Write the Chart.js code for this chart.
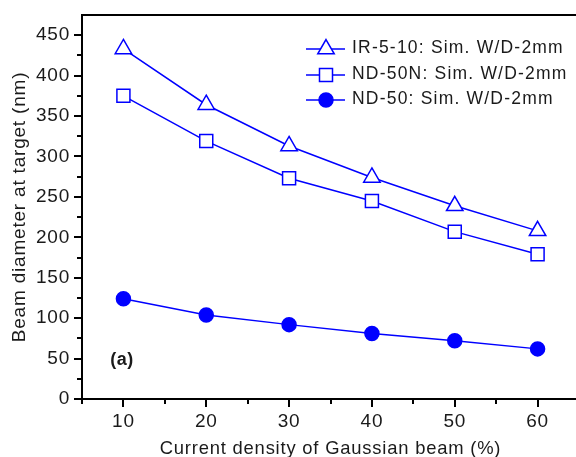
<!DOCTYPE html>
<html><head><meta charset="utf-8">
<script src="https://cdn.jsdelivr.net/npm/chart.js@4/dist/chart.umd.min.js"></script>
<style>html,body{margin:0;padding:0;background:#fff;overflow:hidden}canvas{display:block}</style>
</head><body>
<canvas id="c" width="579" height="457"></canvas>
<script>
const xValues = [10, 20, 30, 40, 50, 60];
const ir510 = [433, 364, 313, 274, 239, 208];
const nd50n = [375, 319, 273, 245, 207, 179];
const nd50  = [124, 104, 92, 81, 72, 62];
const xTicks = [10, 20, 30, 40, 50, 60];
const yTicks = [0, 50, 100, 150, 200, 250, 300, 350, 400, 450];
const seriesNames = ['IR-5-10: Sim. W/D-2mm', 'ND-50N: Sim. W/D-2mm', 'ND-50: Sim. W/D-2mm'];
const panelLabel = '(a)';
const xTitle = 'Current density of Gaussian beam (%)';
const yTitle = 'Beam diameter at target (nm)';

const BLUE = '#0000ff';
const TXT = '#1a1a1a';
const FONT = "'Liberation Sans', Arial, Helvetica, sans-serif";
const toPts = ys => xValues.map((x, i) => ({x: x, y: ys[i]}));

const styles = [
  {pointStyle: 'triangle', radius: 9.5, bg: '#ffffff'},
  {pointStyle: 'rect', radius: 9.2, bg: '#ffffff'},
  {pointStyle: 'circle', radius: 7, bg: BLUE}
];
const seriesData = [ir510, nd50n, nd50];

const datasets = seriesData.map((d, i) => ({
  label: seriesNames[i], data: toPts(d),
  borderColor: BLUE, borderWidth: 1.5, tension: 0, fill: false,
  pointStyle: styles[i].pointStyle, pointRadius: styles[i].radius, pointHoverRadius: styles[i].radius,
  pointBackgroundColor: styles[i].bg, pointBorderColor: BLUE, pointBorderWidth: 1.5
}));

const decor = {
  id: 'decor',
  beforeUpdate(chart) { chart.ctx.letterSpacing = '0.8px'; },
  beforeDraw(chart) { chart.ctx.letterSpacing = '0.8px'; },
  afterDraw(chart) {
    const ctx = chart.ctx, a = chart.chartArea, x = chart.scales.x, y = chart.scales.y;
    ctx.save();
    ctx.strokeStyle = '#000'; ctx.lineWidth = 2;
    ctx.beginPath(); ctx.moveTo(a.left - 1, a.top); ctx.lineTo(a.right, a.top); ctx.stroke();
    for (let v = 0; v < 475; v += 25) {
      const py = Math.round(y.getPixelForValue(v)); const len = v % 50 === 0 ? 8 : 5;
      ctx.beginPath(); ctx.moveTo(a.left - len, py); ctx.lineTo(a.left, py); ctx.stroke();
    }
    for (let v = 5; v <= 65; v += 5) {
      const px = Math.round(x.getPixelForValue(v)); const len = v % 10 === 0 ? 8 : 5;
      ctx.beginPath(); ctx.moveTo(px, a.bottom); ctx.lineTo(px, a.bottom + len); ctx.stroke();
    }
    // legend
    const rows = [49, 75, 100];
    rows.forEach((ry, i) => {
      ctx.strokeStyle = BLUE; ctx.lineWidth = 1.5;
      ctx.beginPath(); ctx.moveTo(306, ry); ctx.lineTo(345, ry); ctx.stroke();
      ctx.fillStyle = styles[i].bg;
      Chart.helpers.drawPoint(ctx, {pointStyle: styles[i].pointStyle, radius: styles[i].radius, borderWidth: 1.5, rotation: 0}, 326, ry);
      ctx.letterSpacing = '1.2px';
      ctx.font = '17.5px ' + FONT;
      ctx.fillStyle = TXT; ctx.textAlign = 'left'; ctx.textBaseline = 'alphabetic';
      ctx.fillText(seriesNames[i], 352, ry + 4);
    });
    ctx.letterSpacing = '0.5px';
    ctx.font = 'bold 18px ' + FONT;
    ctx.textAlign = 'center'; ctx.textBaseline = 'middle'; ctx.fillStyle = TXT;
    ctx.fillText(panelLabel, 122, 360);
    ctx.restore();
  }
};

new Chart(document.getElementById('c'), {
  type: 'line',
  data: {datasets: datasets},
  options: {
    responsive: false, animation: false, devicePixelRatio: 1, events: [],
    layout: {autoPadding: false, padding: {top: 15, left: 0, right: 0, bottom: 0}},
    plugins: {legend: {display: false}, tooltip: {enabled: false}},
    scales: {
      x: {
        type: 'linear', min: 5, max: 65,
        afterBuildTicks: s => { s.ticks = xTicks.map(v => ({value: v})); },
        afterFit: s => { s.height = 58; s.paddingLeft = 0; s.paddingRight = 0; },
        grid: {display: true, drawOnChartArea: false, drawTicks: true, tickLength: 8, color: 'rgba(0,0,0,0)', tickColor: 'rgba(0,0,0,0)'},
        border: {display: true, color: '#000', width: 2},
        ticks: {font: {size: 19, family: FONT}, color: TXT, padding: 3, maxRotation: 0, autoSkip: false},
        title: {display: true, text: xTitle, font: {size: 18.4, family: FONT, lineHeight: 0.9}, color: TXT, padding: 0}
      },
      y: {
        type: 'linear', min: 0, max: 475,
        afterBuildTicks: s => { s.ticks = yTicks.map(v => ({value: v})); },
        afterFit: s => { s.width = 82; s.paddingTop = 0; s.paddingBottom = 0; },
        grid: {display: true, drawOnChartArea: false, drawTicks: true, tickLength: 8, color: 'rgba(0,0,0,0)', tickColor: 'rgba(0,0,0,0)'},
        border: {display: true, color: '#000', width: 2},
        ticks: {font: {size: 19, family: FONT}, color: TXT, padding: 4, autoSkip: false},
        title: {display: true, text: yTitle, font: {size: 19, family: FONT, lineHeight: 1.2}, color: TXT, padding: {top: 8, bottom: 0}}
      }
    }
  },
  plugins: [decor]
});
</script>
</body></html>
